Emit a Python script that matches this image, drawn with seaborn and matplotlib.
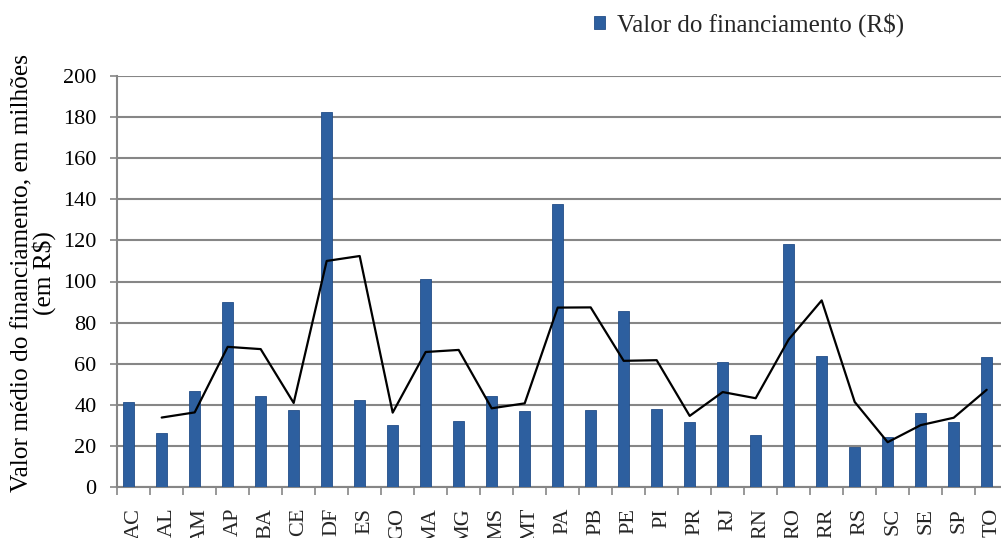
import numpy as np
import matplotlib
matplotlib.use("Agg")
import matplotlib.pyplot as plt
import seaborn as sns

states = ["AC", "AL", "AM", "AP", "BA", "CE", "DF", "ES", "GO", "MA", "MG", "MS", "MT",
          "PA", "PB", "PE", "PI", "PR", "RJ", "RN", "RO", "RR", "RS", "SC", "SE", "SP", "TO"]
valor = [41.5, 26.1, 46.6, 89.9, 44.4, 37.3, 182.6, 42.2, 30.3, 101.1, 32.3, 44.4, 37.0,
         137.6, 37.3, 85.6, 37.8, 31.5, 61.0, 25.5, 118.1, 63.6, 19.3, 24.3, 35.9, 31.5, 63.1]
# 2-period moving average trend line (AL..TO)
media_movel = [33.8, 36.3, 68.2, 67.1, 40.9, 110.0, 112.4, 36.2, 65.7, 66.7, 38.3, 40.7,
               87.3, 87.4, 61.4, 61.7, 34.6, 46.2, 43.2, 71.8, 90.8, 41.4, 21.8, 30.1, 33.7, 47.3]
legend_label = "Valor do financiamento (R$)"
ylabel = "Valor médio do financiamento, em milhões\n(em R$)"
yticks = list(range(0, 201, 20))

sns.set_theme(style="white")
plt.rcParams["font.family"] = ["Liberation Serif", "DejaVu Serif"]

W, H = 1001, 538
fig = plt.figure(figsize=(W / 100, H / 100), dpi=100)
ax_left, ax_right, ax_bottom, ax_top = 117.3, 1001, 487, 76
ax = fig.add_axes([ax_left / W, 1 - ax_bottom / H, (ax_right - ax_left) / W, (ax_bottom - ax_top) / H])

bar_color = "#2D5F9F"
sns.barplot(x=states, y=valor, color=bar_color, width=0.32, saturation=1, ax=ax,
            edgecolor="#234E88", linewidth=0.6, label=legend_label, zorder=3)
x_line = np.arange(1, len(states))
sns.lineplot(x=x_line, y=media_movel, color="black", linewidth=1.6, ax=ax, zorder=4,
             legend=False)

n = len(states)
ax.set_xlim(-0.345, -0.345 + (ax_right - ax_left) / 33.0)
ax.set_ylim(0, 200)
ax.set_yticks(yticks)
ax.set_yticklabels([str(v) for v in yticks], fontsize=16)

# tick marks at category boundaries, labels at category centres
ax.set_xticks(np.arange(n) - 0.345)
ax.set_xticklabels([])
ax.set_xticks(np.arange(n) + 0.155, minor=True)
ax.set_xticklabels(states, minor=True, rotation=90, fontsize=16, va="top", ha="center")
ax.tick_params(axis="x", which="major", bottom=True, length=5.5, width=1.2, color="#868686")
ax.tick_params(axis="x", which="minor", bottom=True, length=0, pad=15)
ax.tick_params(axis="y", which="major", left=True, length=5, width=1.2, color="#868686",
               pad=10, labelcolor="black")

ax.grid(axis="y", color="#868686", linewidth=1.5, zorder=0)
ax.grid(axis="x", visible=False)
ax.set_axisbelow(True)
for s in ["top", "right"]:
    ax.spines[s].set_visible(False)
for s in ["left", "bottom"]:
    ax.spines[s].set_color("#868686")
    ax.spines[s].set_linewidth(1.5)

ax.set_xlabel("")
ax.set_ylabel(ylabel, fontsize=18.3, linespacing=0.95, va="center", ha="center", color="black")
ax.yaxis.set_label_coords((34 - ax_left) / (ax_right - ax_left), (ax_bottom - 273) / (ax_bottom - ax_top))

ax.legend(loc="center left", bbox_to_anchor=(594 / W, 1 - 25 / H),
          bbox_transform=fig.transFigure, frameon=False, fontsize=18,
          handlelength=0.42, handleheight=0.42, handletextpad=0.5, borderpad=0,
          borderaxespad=0)

fig.savefig("out.png", dpi=100)
